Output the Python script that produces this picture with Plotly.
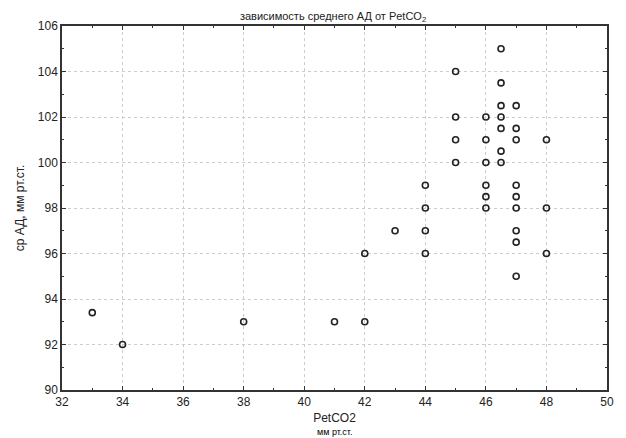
import plotly.graph_objects as go

petco2 = [33, 34, 38, 41, 42, 42, 43,
          44, 44, 44, 44,
          45, 45, 45, 45,
          46, 46, 46, 46, 46, 46,
          46.5, 46.5, 46.5, 46.5, 46.5, 46.5, 46.5,
          47, 47, 47, 47, 47, 47, 47, 47, 47,
          48, 48, 48]
mean_bp = [93.4, 92, 93, 93, 93, 96, 97,
           99, 98, 97, 96,
           104, 102, 101, 100,
           102, 101, 100, 99, 98.5, 98,
           105, 103.5, 102.5, 102, 101.5, 100.5, 100,
           102.5, 101.5, 101, 99, 98.5, 98, 97, 96.5, 95,
           101, 98, 96]

x_ticks = [32, 34, 36, 38, 40, 42, 44, 46, 48, 50]
y_ticks = [90, 92, 94, 96, 98, 100, 102, 104, 106]

title_text = "зависимость среднего АД от PetCO<sub>2</sub>"
x_title = "PetCO2"
x_subtitle = "мм рт.ст."
y_title = "ср АД, мм рт.ст."

fig = go.Figure()
fig.add_trace(go.Scatter(
    x=petco2, y=mean_bp, mode="markers",
    marker=dict(symbol="circle-open", size=6, color="#222222",
                line=dict(width=1.6, color="#222222")),
    showlegend=False,
))

axis_common = dict(
    automargin=False,
    showline=True, linecolor="#333333", linewidth=1.5, mirror="allticks",
    ticks="inside", ticklen=4, tickcolor="#333333", tickwidth=1,
    showgrid=True, gridcolor="#cccccc", griddash="dot", gridwidth=1,
    zeroline=False,
    tickfont=dict(family="Liberation Sans, Arial", size=12, color="#222222"),
    minor=dict(ticks="inside", ticklen=2, tickcolor="#333333", dtick=1, showgrid=False),
)

# page body has an 8px default margin, so the figure is sized to fit inside it
fig.update_layout(
    width=618, height=430,
    paper_bgcolor="white", plot_bgcolor="white",
    margin=dict(l=54, r=19, t=18, b=48),
    font=dict(family="Liberation Sans, Arial", color="#222222"),
    title=dict(text=title_text, x=0.526, xanchor="center", y=0.982, yanchor="middle",
               font=dict(size=11, color="#222222")),
    xaxis=dict(range=[32, 50], tickvals=x_ticks, **axis_common,
               title=dict(text=x_title, font=dict(size=12), standoff=5)),
    yaxis=dict(range=[90, 106], tickvals=y_ticks, **axis_common,
               title=dict(text=y_title, font=dict(size=12), standoff=11)),
    annotations=[dict(text=x_subtitle, xref="paper", yref="paper", x=0.5, y=0,
                      yshift=-42, showarrow=False, xanchor="center", yanchor="middle",
                      font=dict(size=9, color="#000000"))],
)

fig.write_html("out.html")
